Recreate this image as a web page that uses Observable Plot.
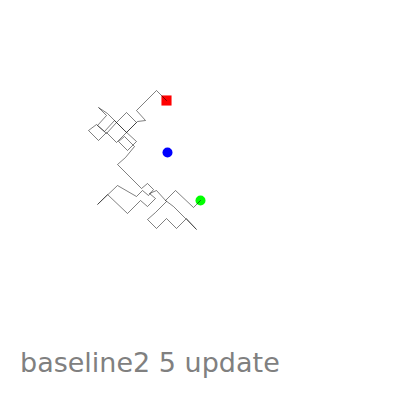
<!DOCTYPE html>
<html>
<head>
<meta charset="utf-8">
<script src="https://cdn.jsdelivr.net/npm/d3@7"></script>
<script src="https://cdn.jsdelivr.net/npm/@observablehq/plot@0.6"></script>
<style>
  html, body { margin: 0; padding: 0; background: #fff; }
  #wrap { position: relative; width: 400px; height: 400px; }
  #title { position: absolute; left: 20px; top: 347px; font-family: "DejaVu Sans", sans-serif; font-size: 27px; line-height: 32px; color: #808080; white-space: nowrap; }
</style>
</head>
<body>
<div id="wrap">
  <div id="chart"></div>
  <div id="title"></div>
</div>
<script>
// Walk coordinates (chart units)
const walkX = [166,156,136,145,137,126,116,126,136,126,116,106,98,88,96,106,116,107,98,106,97,104,114,124,136,127,118,124,134,125,117,
               141,147,153,148,142,136,117,97,107,127,140,147,155,149,156,166,155,147,156,166,176,186,196,186,173,165,175,193,200];
const walkY = [100,90,110,120,121,132,122,112,122,132,142,132,140,130,124,133,122,113,107,115,125,131,120,130,141,150,141,136,146,157,164,
               188,183,189,195,190,196,185,204,194,213,200,206,198,193,190,201,212,219,228,218,228,218,229,219,206,200,190,207,200];
const startPoint = [166, 100];
const meanPoint = [167, 152];
const endPoint = [200, 200];
const titleText = "baseline2 5 update";

const walk = walkX.map((x, i) => ({x, y: walkY[i]}));

const chart = Plot.plot({
  width: 400,
  height: 340,
  margin: 0,
  x: {domain: [0, 400], axis: null},
  y: {domain: [0, 340], reverse: true, axis: null},
  marks: [
    Plot.dot([startPoint], {x: d => d[0], y: d => d[1], symbol: "square", r: 5.7, fill: "#ff0000", stroke: "none"}),
    Plot.dot([meanPoint], {x: d => d[0], y: d => d[1], r: 5, fill: "#0000ff", stroke: "none"}),
    Plot.dot([endPoint], {x: d => d[0], y: d => d[1], r: 5, fill: "#00ff00", stroke: "none"}),
    Plot.line(walk, {x: "x", y: "y", stroke: "#000", strokeWidth: 0.5})
  ]
});
document.getElementById("chart").appendChild(chart);
document.getElementById("title").textContent = titleText;
</script>
</body>
</html>
